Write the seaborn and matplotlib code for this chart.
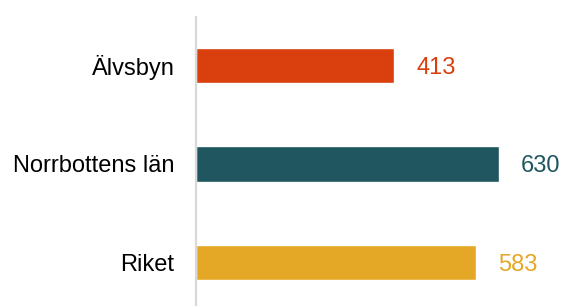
import matplotlib
matplotlib.use("Agg")
import matplotlib.pyplot as plt
import seaborn as sns
import pandas as pd

categories = ["Älvsbyn", "Norrbottens län", "Riket"]
values = [413, 630, 583]
colors = ["#d9400e", "#1f565f", "#e5a826"]

df = pd.DataFrame({"cat": categories, "val": values})

sns.set_theme(style="white")
plt.rcParams['font.family'] = ['Liberation Sans', 'DejaVu Sans']

fig = plt.figure(figsize=(5.63, 3.06), dpi=100)
ax = fig.add_axes([196/563, 0, 1 - 196/563, 1 - 17/306])
sns.barplot(data=df, x="val", y="cat", hue="cat", palette=colors, legend=False,
            width=0.36, ax=ax, saturation=1)
ax.set_xlim(0, 764)
ax.set_ylim(2.44, -0.49)
for s in ["top", "right", "bottom"]:
    ax.spines[s].set_visible(False)
ax.spines["left"].set_color("#d9d9d9")
ax.spines["left"].set_linewidth(1.6)
ax.set_xticks([])
ax.set_xlabel("")
ax.set_ylabel("")
ax.tick_params(axis="y", length=0, pad=15.5, labelsize=17, labelcolor="#000000")
for i, (v, c) in enumerate(zip(values, colors)):
    ax.text(v + 46, i, f"{v}", color=c, fontsize=17, va="center_baseline", ha="left")
fig.savefig("out.png", dpi=100)
